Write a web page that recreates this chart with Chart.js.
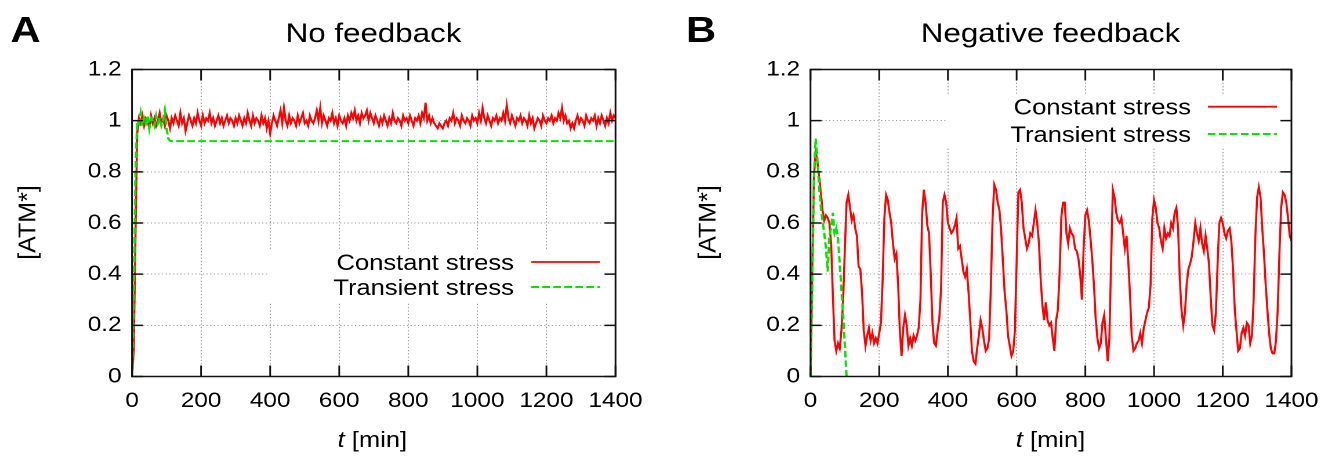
<!DOCTYPE html>
<html><head><meta charset="utf-8">
<script src="https://cdn.jsdelivr.net/npm/chart.js@4.4.0/dist/chart.umd.min.js"></script>
<style>
html,body{margin:0;padding:0;background:#fff;overflow:hidden;width:1344px;height:457px;}
.panel{position:absolute;top:0;width:580px;height:457px;transform-origin:0 0;transform:scaleX(1.16);}
#pa{left:0}
#pb{left:672px}
</style></head><body>
<div class="panel" id="pa"><canvas id="ca"></canvas></div>
<div class="panel" id="pb"><canvas id="cb"></canvas></div>
<script>
// ---------- data ----------
const xTickValues = [0, 200, 400, 600, 800, 1000, 1200, 1400];
const xTickLabels = ['0', '200', '400', '600', '800', '1000', '1200', '1400'];
const yTickValues = [0, 0.2, 0.4, 0.6, 0.8, 1.0, 1.2];
const yTickLabels = ['0', '0.2', '0.4', '0.6', '0.8', '1', '1.2'];
const seriesNames = ['Constant stress', 'Transient stress'];

// sampling grid of the simulated time courses (min)
const sampleTimes = Array.from({length: 281}, (_, i) => i * 5);

// Panel A: no feedback
const constantA = [
0, 0.10, 0.55, 0.95, 1.01,
0.99, 1.02, 0.98, 1.01, 1.00, 0.97, 1.02, 0.99, 1.01, 0.98,
1.00, 1.03, 0.99, 1.01, 0.98, 1.02, 1.00, 0.97, 1.01, 0.99,
1.02, 1.00, 0.98, 1.03, 0.99, 1.01, 0.96, 0.99, 1.02, 1.00,
0.98, 1.01, 0.99, 1.03, 1.00, 0.98, 1.02, 0.99, 1.01, 1.00,
1.03, 0.99, 1.01, 0.98, 1.00, 1.02, 0.99, 1.01, 0.98, 1.00,
1.02, 0.99, 1.01, 1.00, 0.98, 1.01, 0.99, 1.02, 1.00, 0.98,
1.01, 0.99, 1.03, 1.00, 0.98, 1.02, 0.99, 1.01, 1.00, 0.98,
1.02, 0.99, 1.01, 0.97, 1.00, 0.95, 0.99, 1.02, 1.00, 0.98,
1.01, 1.04, 0.99, 1.05, 1.00, 0.98, 1.02, 0.99, 1.01, 1.00,
0.98, 1.02, 0.99, 1.01, 1.03, 0.99, 1.00, 0.98, 1.02, 1.00,
0.99, 1.01, 1.04, 1.00, 1.05, 0.99, 1.02, 1.00, 0.98, 1.01,
1.00, 1.03, 0.99, 1.01, 0.98, 1.02, 1.00, 0.99, 1.01, 0.98,
1.02, 1.00, 1.03, 1.01, 1.04, 1.00, 1.02, 0.99, 1.03, 1.01,
1.02, 1.04, 1.00, 1.03, 1.01, 0.99, 1.02, 1.00, 0.98, 1.01,
0.99, 1.02, 1.00, 0.98, 1.01, 0.99, 1.03, 1.00, 0.99, 1.01,
1.00, 0.98, 1.02, 1.00, 1.01, 0.99, 1.02, 1.00, 0.98, 1.01,
1.00, 1.02, 0.99, 1.03, 1.01, 1.07, 1.00, 1.02, 0.99, 1.01,
0.99, 0.98, 0.97, 0.99, 0.98, 0.97, 0.99, 1.00, 0.98, 1.01,
1.00, 1.03, 0.99, 1.01, 1.00, 0.98, 1.02, 1.00, 0.99, 1.01,
1.00, 0.98, 1.02, 1.00, 1.01, 0.99, 1.03, 1.00, 1.05, 1.01,
0.99, 1.02, 1.00, 0.98, 1.01, 1.00, 1.02, 0.99, 1.01, 1.00,
1.03, 1.00, 1.06, 1.01, 0.99, 1.02, 1.00, 0.98, 1.01, 1.00,
1.02, 0.99, 1.01, 1.00, 0.98, 1.02, 0.99, 1.01, 0.97, 0.99,
1.01, 1.00, 0.98, 1.02, 1.00, 0.99, 1.01, 1.00, 1.02, 0.99,
1.01, 1.00, 1.03, 1.01, 1.05, 1.00, 1.02, 0.99, 1.00, 0.97,
0.99, 0.97, 1.00, 1.02, 0.99, 1.01, 1.00, 0.98, 1.02, 1.00,
0.99, 1.01, 1.00, 1.02, 0.98, 1.01, 0.99, 1.02, 1.00, 0.98,
1.01, 0.99, 1.03, 1.00, 1.02, 1.01
];
const transientTimesA = [0, 5, 10, 15, 20, 25, 30, 35, 40, 45, 50, 55, 60, 65, 70, 75, 80, 85, 90, 95, 100, 105, 110, 115, 1400];
const transientA = [0, 0.30, 0.80, 1.00, 0.99, 1.03, 0.98, 1.01, 0.99, 1.02, 0.97, 1.01, 1.00, 0.98, 1.02, 0.99, 1.01, 0.98, 1.00, 1.04, 0.97, 0.93, 0.921, 0.92, 0.92];

// Panel B: negative feedback
const constantB = [
0.00, 0.40, 0.78, 0.88, 0.84, 0.78, 0.72, 0.65, 0.61, 0.63,
0.62, 0.60, 0.52, 0.32, 0.14, 0.10, 0.13, 0.11, 0.18, 0.30,
0.50, 0.68, 0.71, 0.66, 0.61, 0.63, 0.58, 0.55, 0.43, 0.42,
0.33, 0.18, 0.12, 0.16, 0.19, 0.14, 0.17, 0.13, 0.15, 0.13,
0.17, 0.21, 0.38, 0.62, 0.71, 0.69, 0.64, 0.60, 0.52, 0.46,
0.48, 0.36, 0.18, 0.08, 0.19, 0.24, 0.20, 0.12, 0.15, 0.12,
0.16, 0.14, 0.16, 0.19, 0.30, 0.64, 0.73, 0.68, 0.59, 0.56,
0.40, 0.21, 0.13, 0.12, 0.18, 0.23, 0.34, 0.68, 0.71, 0.68,
0.60, 0.58, 0.56, 0.57, 0.59, 0.62, 0.50, 0.51, 0.46, 0.41,
0.39, 0.42, 0.33, 0.22, 0.10, 0.06, 0.05, 0.11, 0.16, 0.22,
0.19, 0.14, 0.10, 0.11, 0.15, 0.35, 0.62, 0.75, 0.73, 0.68,
0.65, 0.57, 0.45, 0.33, 0.26, 0.16, 0.12, 0.08, 0.10, 0.18,
0.45, 0.72, 0.73, 0.68, 0.58, 0.54, 0.50, 0.52, 0.56, 0.55,
0.60, 0.65, 0.60, 0.52, 0.38, 0.28, 0.22, 0.29, 0.22, 0.20,
0.21, 0.15, 0.10, 0.22, 0.26, 0.40, 0.62, 0.68, 0.68, 0.56,
0.52, 0.58, 0.56, 0.55, 0.50, 0.49, 0.46, 0.40, 0.30, 0.50,
0.63, 0.65, 0.61, 0.54, 0.46, 0.36, 0.23, 0.15, 0.11, 0.13,
0.21, 0.24, 0.15, 0.06, 0.15, 0.45, 0.73, 0.70, 0.64, 0.61,
0.60, 0.62, 0.56, 0.50, 0.55, 0.45, 0.32, 0.16, 0.10, 0.11,
0.13, 0.14, 0.17, 0.13, 0.19, 0.22, 0.25, 0.27, 0.36, 0.62,
0.69, 0.66, 0.60, 0.58, 0.53, 0.50, 0.58, 0.54, 0.56, 0.55,
0.60, 0.58, 0.64, 0.66, 0.58, 0.38, 0.26, 0.20, 0.25, 0.36,
0.42, 0.44, 0.47, 0.53, 0.60, 0.56, 0.53, 0.58, 0.52, 0.49,
0.55, 0.50, 0.44, 0.31, 0.20, 0.18, 0.25, 0.44, 0.60, 0.62,
0.60, 0.56, 0.54, 0.57, 0.58, 0.53, 0.42, 0.26, 0.18, 0.10,
0.11, 0.17, 0.19, 0.16, 0.21, 0.20, 0.13, 0.16, 0.30, 0.55,
0.70, 0.74, 0.70, 0.58, 0.48, 0.36, 0.26, 0.17, 0.11, 0.09,
0.09, 0.14, 0.26, 0.48, 0.66, 0.72, 0.71, 0.68, 0.62, 0.55,
0.53
];
const transientTimesB = [0, 5, 10, 15, 20, 25, 30, 35, 40, 45, 50, 55, 60, 65, 70, 75, 80, 85, 90, 95, 100, 105];
const transientB = [0, 0.35, 0.78, 0.93, 0.85, 0.74, 0.66, 0.61, 0.56, 0.50, 0.41, 0.55, 0.58, 0.64, 0.56, 0.58, 0.54, 0.44, 0.34, 0.24, 0.12, 0.0];

// ---------- style ----------
const SX = 1.16;               // horizontal stretch of the original figure
const FONT = "'Liberation Sans', Arial, Helvetica, sans-serif";
const RED = '#ff0000';
const GREEN = '#00e600';
const DASH = [6.5, 3];
const TICK_V = 11, TICK_H = 9.5;

const pairs = (ts, vs) => ts.map((t, i) => ({x: t, y: vs[i]}));

const decor = {
  id: 'decor',
  beforeDatasetsDraw(chart, args, o) {
    const {ctx, chartArea: a} = chart;
    ctx.save();
    ctx.fillStyle = '#fff';
    ctx.fillRect(o.blank[0], o.blank[1], a.right - o.blank[0], o.blank[2] - o.blank[1]);
    ctx.restore();
  },
  afterDatasetsDraw(chart, args, o) {
    const {ctx, chartArea: a, scales} = chart;
    ctx.save();
    ctx.strokeStyle = '#111';
    ctx.lineWidth = 1.5;
    ctx.beginPath();
    xTickValues.forEach(v => {
      const px = scales.x.getPixelForValue(v);
      ctx.moveTo(px, a.bottom); ctx.lineTo(px, a.bottom - TICK_V);
      ctx.moveTo(px, a.top); ctx.lineTo(px, a.top + TICK_V);
    });
    yTickValues.forEach(v => {
      const py = scales.y.getPixelForValue(v);
      ctx.moveTo(a.left, py); ctx.lineTo(a.left + TICK_H, py);
      ctx.moveTo(a.right, py); ctx.lineTo(a.right - TICK_H, py);
    });
    ctx.stroke();
    ctx.strokeRect(a.left, a.top, a.right - a.left, a.bottom - a.top);
    // legend (text right-aligned, sample line to the right)
    ctx.font = '22px ' + FONT;
    ctx.fillStyle = '#000';
    ctx.textAlign = 'right';
    ctx.textBaseline = 'alphabetic';
    chart.data.datasets.forEach((ds, i) => {
      const y = o.legendRows[i];
      ctx.fillText(ds.label, o.legendTextRight, y + 8);
      ctx.save();
      ctx.strokeStyle = ds.borderColor;
      ctx.lineWidth = ds.borderWidth;
      ctx.setLineDash(ds.borderDash || []);
      ctx.beginPath();
      ctx.moveTo(o.legendLine[0], y); ctx.lineTo(o.legendLine[1], y);
      ctx.stroke();
      ctx.restore();
    });
    ctx.restore();
  },
  afterDraw(chart, args, o) {
    const ctx = chart.ctx;
    ctx.save();
    ctx.fillStyle = '#000';
    ctx.textBaseline = 'alphabetic';
    ctx.textAlign = 'left';
    ctx.font = 'bold 36px ' + FONT;
    ctx.fillText(o.letter, o.letterX, 42);
    ctx.textAlign = 'center';
    ctx.font = '27px ' + FONT;
    ctx.fillText(o.title, o.titleX, 42);
    // x axis title: italic t + [min]
    const f1 = 'italic 22px ' + FONT, f2 = '22px ' + FONT;
    ctx.font = f1; const w1 = ctx.measureText('t').width;
    ctx.font = f2; const w2 = ctx.measureText(' [min]').width;
    const x0 = o.xTitleX - (w1 + w2) / 2;
    ctx.textAlign = 'left';
    ctx.font = f1; ctx.fillText('t', x0, 447);
    ctx.font = f2; ctx.fillText(' [min]', x0 + w1, 447);
    // y axis title (rotated, compensate the horizontal stretch)
    ctx.translate(o.yTitleX, 222.5);
    ctx.scale(1 / SX, 1);
    ctx.rotate(-Math.PI / 2);
    ctx.textAlign = 'center';
    ctx.textBaseline = 'middle';
    ctx.font = '25px ' + FONT;
    ctx.fillText('[ATM*]', 0, 0);
    ctx.restore();
  }
};

function makeChart(id, constPts, transPts, plotLeft, plotRightPad, deco) {
  return new Chart(document.getElementById(id), {
    type: 'line',
    data: {
      datasets: [
        {label: seriesNames[0], data: constPts, borderColor: RED, borderWidth: 1.8, pointRadius: 0, tension: 0, order: 2},
        {label: seriesNames[1], data: transPts, borderColor: GREEN, borderWidth: 2, borderDash: DASH, pointRadius: 0, tension: 0, order: 1}
      ]
    },
    options: {
      responsive: true,
      maintainAspectRatio: false,
      animation: false,
      devicePixelRatio: 2,
      layout: {padding: {left: 0, right: plotRightPad, top: 69.5, bottom: 0}},
      plugins: {legend: {display: false}, tooltip: {enabled: false}, title: {display: false}, decor: deco},
      scales: {
        x: {
          type: 'linear', min: 0, max: 1400,
          afterFit: s => { s.height = 80.5; },
          afterBuildTicks: s => { s.ticks = xTickValues.map(v => ({value: v})); },
          ticks: {callback: (v, i) => xTickLabels[i], font: {family: FONT, size: 21}, color: '#000', padding: 12, maxRotation: 0, autoSkip: false},
          grid: {color: '#9a9a9a', lineWidth: 1, drawTicks: false},
          border: {display: false, dash: [1.2, 2.1]}
        },
        y: {
          type: 'linear', min: 0, max: 1.2,
          afterFit: s => { s.width = plotLeft; },
          afterBuildTicks: s => { s.ticks = yTickValues.map(v => ({value: v})); },
          ticks: {callback: (v, i) => yTickLabels[i], font: {family: FONT, size: 21}, color: '#000', padding: 9, autoSkip: false},
          grid: {color: '#9a9a9a', lineWidth: 1, drawTicks: false},
          border: {display: false, dash: [1, 2.2]}
        }
      }
    },
    plugins: [decor]
  });
}

makeChart('ca',
  pairs(sampleTimes, constantA), pairs(transientTimesA, transientA),
  113.8, 49.4,
  {letter: 'A', letterX: 9, title: 'No feedback', titleX: 322, xTitleX: 321, yTitleX: 24.5,
   blank: [231, 250, 303], legendRows: [262, 287], legendTextRight: 443, legendLine: [458, 517]});

makeChart('cb',
  pairs(sampleTimes, constantB), pairs(transientTimesB, transientB),
  119.4, 46,
  {letter: 'B', letterX: 12, title: 'Negative feedback', titleX: 326.3, xTitleX: 326.3, yTitleX: 31.4,
   blank: [237, 95, 148], legendRows: [106.7, 134], legendTextRight: 447.4, legendLine: [462, 521.6]});
</script>
</body></html>
